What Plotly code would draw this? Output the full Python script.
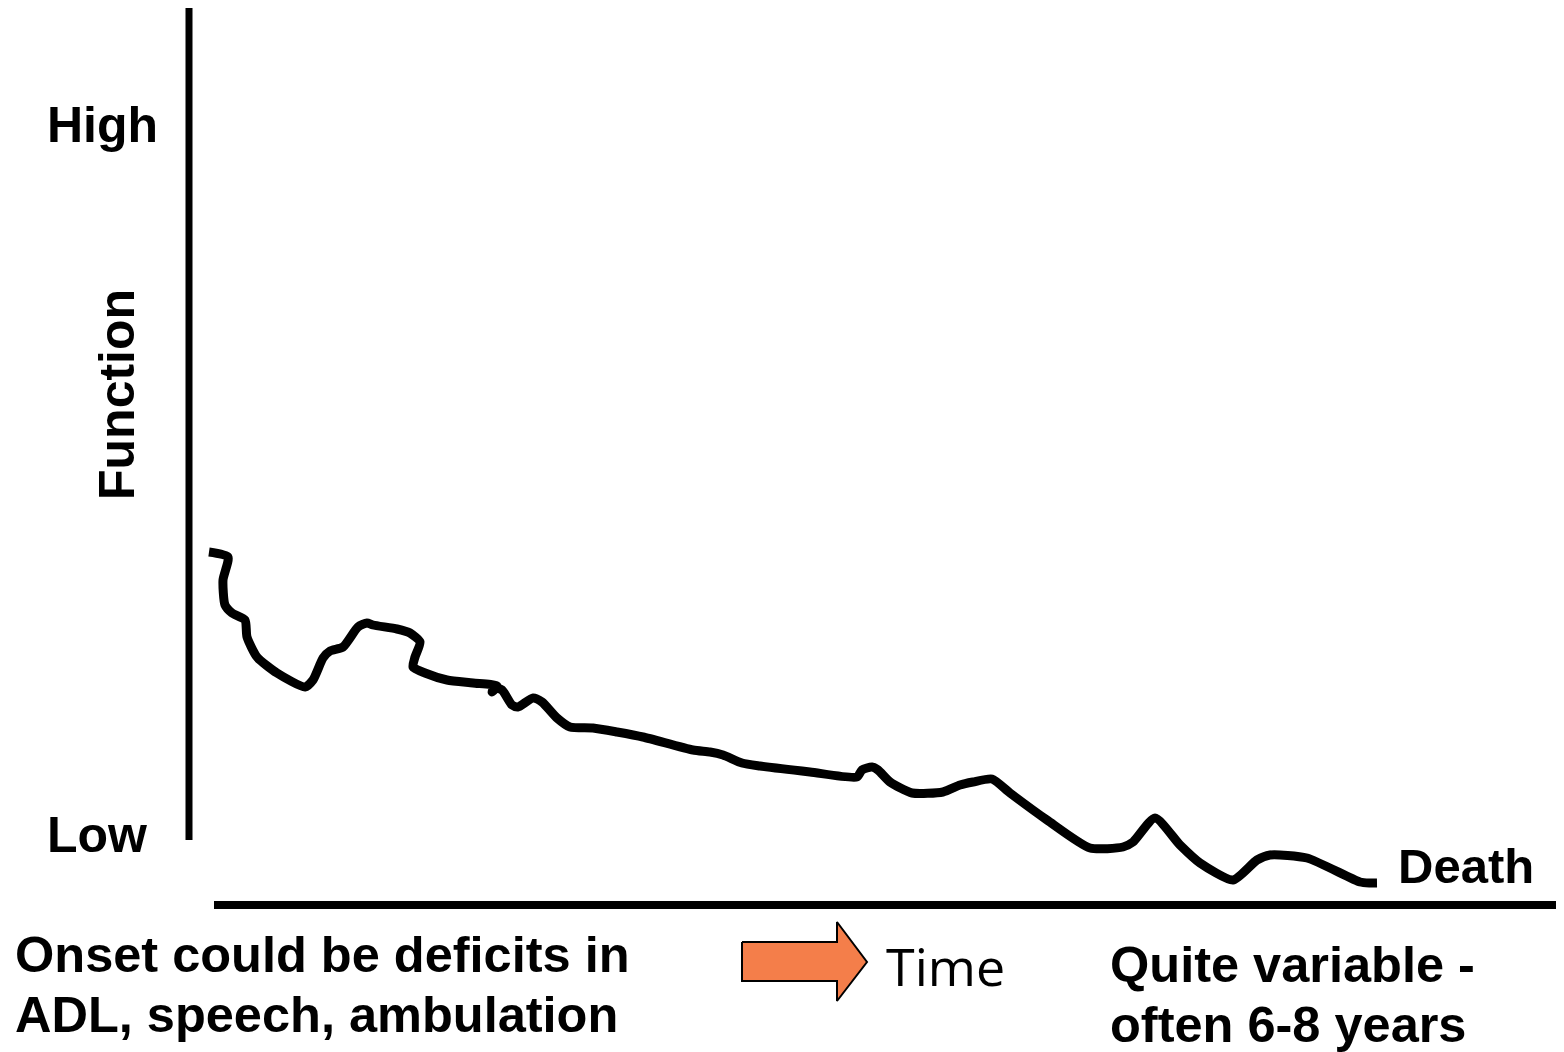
import plotly.graph_objects as go

# Canvas coordinates (pixel-like data space)
W, H = 1564, 1052
OFF = 8  # page body margin compensation

# Function-over-time curve (x = time, y = function level, screen-style)
curve_x = [209, 228, 223, 225, 232, 245, 247, 257, 277, 305, 313, 323, 330, 343, 358, 367, 373,
           397, 410, 420, 415, 413, 425, 447, 473, 497, 492, 494, 502, 512, 518, 533, 542, 557,
           570, 593, 617, 643, 693, 710, 723, 742, 760, 810, 857, 862, 872, 878, 890, 912, 943,
           960, 973, 992, 1010, 1047, 1090, 1123, 1133, 1155, 1180, 1200, 1233, 1257, 1270, 1307,
           1360, 1370, 1377]
curve_y = [552, 557, 580, 605, 613, 620, 637, 657, 673, 687, 680, 658, 651, 647, 627, 623, 625,
           629, 633, 642, 657, 667, 673, 680, 683, 686, 692, 688, 690, 705, 707, 698, 702, 718,
           727, 728, 732, 737, 750, 752, 755, 763, 766, 772, 777, 770, 767, 770, 782, 793, 792,
           785, 782, 779, 793, 820, 848, 847, 842, 818, 845, 863, 880, 860, 855, 858,
           882, 883, 883]

# Axis lines
vaxis_x = [189, 189]
vaxis_y = [8, 840]
haxis_x = [214, 1580]
haxis_y = [905, 905]

# Time arrow outline
arrow_x = [742, 837, 837, 867, 837, 837, 742, 742]
arrow_y = [942, 942, 922, 962, 1001, 981, 981, 942]

BOLD = "Liberation Sans, Arial, sans-serif"

fig = go.Figure()
fig.add_trace(go.Scatter(x=vaxis_x, y=vaxis_y, mode="lines",
                         line=dict(color="black", width=7), hoverinfo="skip"))
fig.add_trace(go.Scatter(x=haxis_x, y=haxis_y, mode="lines",
                         line=dict(color="black", width=8), hoverinfo="skip"))
fig.add_trace(go.Scatter(x=curve_x, y=curve_y, mode="lines",
                         line=dict(color="black", width=9, shape="spline", smoothing=0.6),
                         hoverinfo="skip"))
fig.add_trace(go.Scatter(x=arrow_x, y=arrow_y, mode="lines", fill="toself",
                         fillcolor="#F47E4A", line=dict(color="black", width=2),
                         hoverinfo="skip"))

labels = [
    ("High", 45, 125, 50),
    ("Low", 45, 835, 50),
    ("Death", 1396, 866, 49),
    ("Onset could be deficits in", 13, 954, 50.5),
    ("ADL, speech, ambulation", 13, 1014, 50.5),
    ("Quite variable -", 1108, 964, 50.5),
    ("often 6-8 years", 1108, 1024, 50.5),
]
for txt, x, y, sz in labels:
    fig.add_annotation(x=x, y=y, xref="x", yref="y", text=f"<b>{txt}</b>", showarrow=False,
                       xanchor="left", yanchor="middle",
                       font=dict(family=BOLD, size=sz, color="black"))

fig.add_annotation(x=117, y=395, xref="x", yref="y", text="<b>Function</b>", showarrow=False,
                   textangle=-90, xanchor="center", yanchor="middle",
                   font=dict(family=BOLD, size=50, color="black"))
fig.add_annotation(x=884, y=965, xref="x", yref="y", text="Time", showarrow=False,
                   xanchor="left", yanchor="middle",
                   font=dict(family="Open Sans, sans-serif", size=52, color="black"))

fig.update_layout(
    width=W - OFF, height=H - OFF, margin=dict(l=0, r=0, t=0, b=0),
    paper_bgcolor="white", plot_bgcolor="white", showlegend=False,
    xaxis=dict(range=[OFF, W], visible=False, fixedrange=True),
    yaxis=dict(range=[H, OFF], visible=False, fixedrange=True),
)
fig.write_html("out.html", config={"displayModeBar": False})
